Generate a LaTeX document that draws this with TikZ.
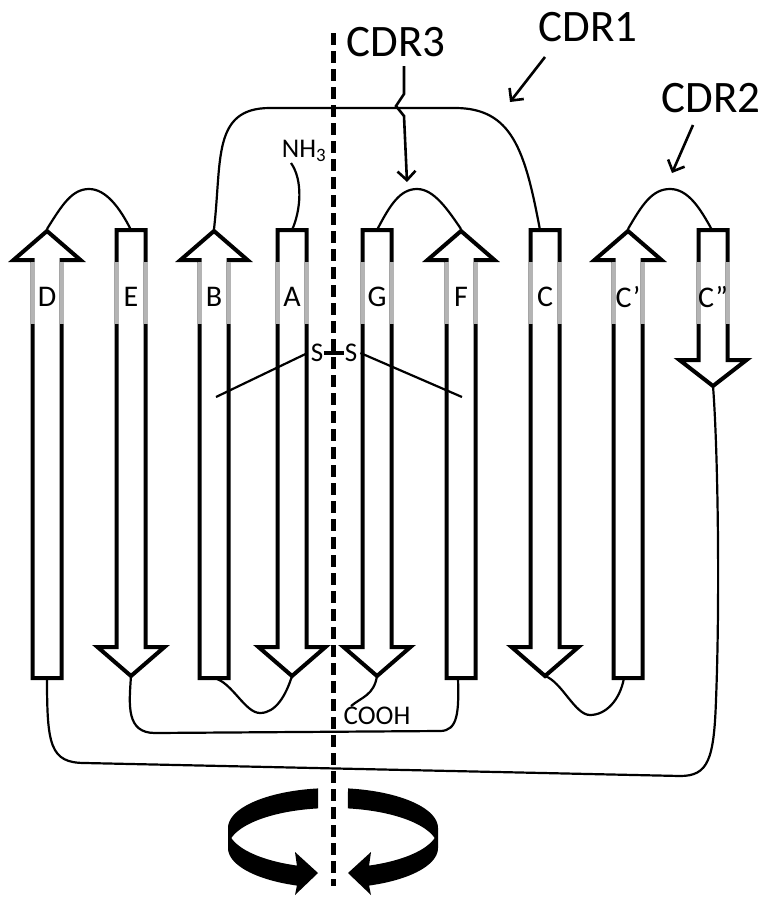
\documentclass[tikz,border=0pt]{standalone}
\usepackage{fontspec}
\setmainfont{Carlito}
\usetikzlibrary{arrows.meta}
\definecolor{bandgrey}{RGB}{180,180,180}
\tikzset{
  strand/.style={draw=black, line width=4pt, fill=white, miter limit=10},
  band/.style={draw=bandgrey, line width=4pt},
  loopline/.style={draw, line width=2.2pt},
  lbl/.style={font=\fontsize{30}{30}\selectfont, inner sep=0pt},
  cdr/.style={font=\fontsize{45}{45}\selectfont, inner sep=0pt},
  chem/.style={font=\fontsize{27}{27}\selectfont, inner sep=0pt},
  pointer/.style={line width=2.6pt, -{Straight Barb[length=9pt,width=18pt]}},
  axisline/.style={line width=5pt, dash pattern=on 12pt off 6pt},
  spin/.style={fill=black},
}
% strand with its arrowhead on top: name, x, bottom y, label
\newcommand\upstrand[4]{%
  \draw[strand] (#2-14.5,#3) -- (#2-14.5,260) -- (#2-33.5,260) -- (#2,231)
     -- (#2+33.5,260) -- (#2+14.5,260) -- (#2+14.5,#3) -- cycle;
  \draw[band] (#2-14.5,262) -- (#2-14.5,324) (#2+14.5,262) -- (#2+14.5,324);
  \node[lbl] (#1) at (#2,297) {#4};
  \coordinate (#1-top) at (#2,229);
  \coordinate (#1-bot) at (#2,#3);
}
% strand with its arrowhead at the bottom: name, x, head base y, tip y, label
\newcommand\downstrand[5]{%
  \draw[strand] (#2-14.5,230) -- (#2-14.5,#3) -- (#2-33.5,#3) -- (#2,#4)
     -- (#2+33.5,#3) -- (#2+14.5,#3) -- (#2+14.5,230) -- cycle;
  \draw[band] (#2-14.5,262) -- (#2-14.5,324) (#2+14.5,262) -- (#2+14.5,324);
  \node[lbl] (#1) at (#2,297) {#5};
  \coordinate (#1-top) at (#2,230);
  \coordinate (#1-bot) at (#2,#4);
}
% one half of the rotation ribbon, drawn left of the axis
\newcommand\spinhalf{%
  \fill[spin] (-15,-39.6)
    -- plot[domain=261.8:180, samples=40, variable=\t] ({105*cos(\t)},{40*sin(\t)})
    -- (-105,20)
    -- plot[domain=180:110.1, samples=40, variable=\t] ({105*cos(\t)},{20+40*sin(\t)})
    -- (-38,67) -- (-15,45) -- (-38,24)
    -- plot[domain=110.1:165.5, samples=40, variable=\t] ({105*cos(\t)},{40*sin(\t)})
    -- plot[domain=194.5:261.8, samples=40, variable=\t] ({105*cos(\t)},{20+40*sin(\t)})
    -- cycle;
}
\begin{document}
\begin{tikzpicture}[x=1pt,y=-1pt]
\useasboundingbox (0,0) rectangle (766,897);

% beta strands
\upstrand{D}{47}{678}{D}
\downstrand{E}{131}{647}{676}{E}
\upstrand{B}{214}{678}{B}
\downstrand{A}{292}{647}{676}{A}
\downstrand{G}{377}{647}{676}{G}
\upstrand{F}{461}{678}{F}
\downstrand{C}{545}{647}{676}{C}
\upstrand{Cp}{628}{678}{C’}
\downstrand{Cpp}{713}{360}{386}{C”}

% termini
\node[chem] (nh3) at (304,151) {NH\textsubscript{3}};
\node[chem] (cooh) at (377,716) {COOH};

% top loops
\draw[loopline] (D-top) .. controls (62,205) and (72,189) .. (89,189)
   .. controls (106,189) and (120,208) .. (E-top);
\draw[loopline] (G-top) .. controls (390,205) and (400,189) .. (417,189)
   .. controls (434,189) and (448,210) .. (F-top);
\draw[loopline] (Cp-top) .. controls (642,205) and (652,189) .. (670,189)
   .. controls (688,189) and (700,208) .. ([xshift=-1pt]Cpp-top);
\draw[loopline] (B-top) .. controls (222,160) and (212,108) .. (270,108)
   -- (455,108) .. controls (512,108) and (525,150) .. ([xshift=-5pt]C-top);
\draw[loopline] (291,163) .. controls (303,180) and (301,210) .. (A-top);

% bottom loops
\draw[loopline] (B-bot) .. controls (232,682) and (245,713) .. (260,713)
   .. controls (276,713) and (286,695) .. (A-bot);
\draw[loopline] (C-bot) .. controls (562,682) and (575,715) .. (590,715)
   .. controls (606,715) and (620,700) .. ([xshift=-4pt]Cp-bot);
\draw[loopline] (G-bot) .. controls (374,695) and (362,697) .. (351,706);
\draw[loopline] (E-bot) .. controls (129,705) and (126,733) .. (155,733)
   -- (440,731) .. controls (458,731) and (459,712) .. ([xshift=-3pt]F-bot);
\draw[loopline] (D-bot) .. controls (47,745) and (50,763) .. (85,763)
   -- (680,776) .. controls (708,776) and (714,760) .. (716,700)
   .. controls (720,600) and (718,450) .. (Cpp-bot);

% disulfide bridge
\node[chem] (sL) at (317,353) {S};
\node[chem] (sR) at (351,353) {S};
\coordinate (sL-end) at (216,397);
\coordinate (sR-end) at (462,397);
\draw[line width=4pt] ([xshift=1pt]sL.east) -- ([xshift=-1pt]sR.west);
\draw[loopline] ([xshift=-3pt]sL.west) -- (sL-end);
\draw[loopline] ([xshift=3pt]sR.east) -- (sR-end);

% CDR labels and pointers
\node[cdr] (cdr3) at (396,42) {CDR3};
\node[cdr] (cdr1) at (588,27) {CDR1};
\node[cdr] (cdr2) at (711,98) {CDR2};
\coordinate (cdr3-end) at (407,182);
\coordinate (cdr1-end) at (510,102);
\coordinate (cdr2-end) at (672,173);
\draw[pointer] (404,66) -- (404,94) -- (396,106) -- (404,116) -- (cdr3-end);
\draw[pointer] (545,57) -- (cdr1-end);
\draw[pointer] (693,125) -- (cdr2-end);

% twofold axis
\coordinate (axis-top) at (333,33);
\coordinate (axis-bot) at (333,886);
\draw[axisline] (axis-top) -- (axis-bot);

% rotation ribbon
\begin{scope}[shift={(333,828)}]
  \spinhalf
\end{scope}
\begin{scope}[shift={(333,828)}, xscale=-1]
  \spinhalf
\end{scope}
\end{tikzpicture}
\end{document}
